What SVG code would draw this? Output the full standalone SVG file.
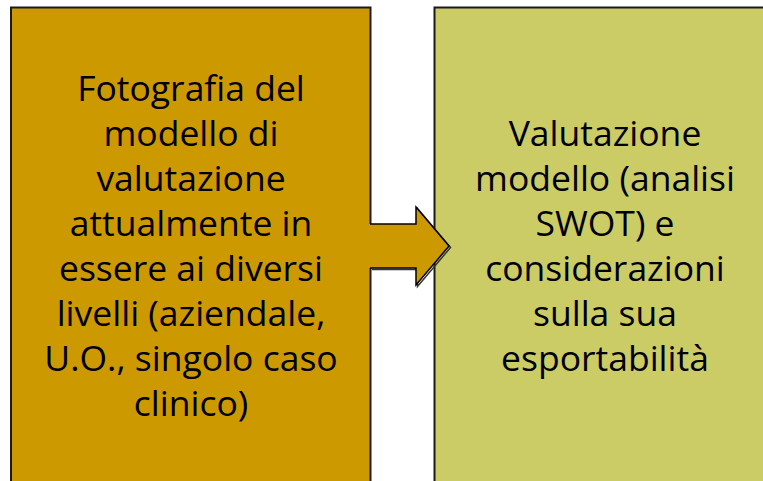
<svg xmlns="http://www.w3.org/2000/svg" width="763" height="481" viewBox="0 0 763 481">
<style>
.box{stroke:#1a1a1a;stroke-width:2}
.t{font-family:"Open Sans","DejaVu Sans",sans-serif;font-size:35.5px;fill:#000;text-anchor:middle}
</style>
<rect width="763" height="481" fill="#ffffff"/>
<g id="node-left">
<rect class="box" x="11" y="7.5" width="359.5" height="490" fill="#CC9900"/>
<text class="t"><tspan x="191" y="101">Fotografia del</tspan><tspan x="191" y="146">modello di</tspan><tspan x="191" y="191">valutazione</tspan><tspan x="191" y="236">attualmente in</tspan><tspan x="191" y="281">essere ai diversi</tspan><tspan x="191" y="326">livelli (aziendale,</tspan><tspan x="191" y="371">U.O., singolo caso</tspan><tspan x="191" y="416">clinico)</tspan></text>
</g>
<g id="node-right">
<rect class="box" x="434.5" y="7.5" width="350" height="490" fill="#CCCC66"/>
<text class="t"><tspan x="605" y="146">Valutazione</tspan><tspan x="605" y="191">modello (analisi</tspan><tspan x="605" y="236">SWOT) e</tspan><tspan x="605" y="281">considerazioni</tspan><tspan x="605" y="326">sulla sua</tspan><tspan x="605" y="371">esportabilità</tspan></text>
</g>
<g id="connectors">
<path d="M372,225.5 H417.5 V208.5 L450.5,247.5 L417.5,286.5 V269.5 H372" fill="none" stroke="#333" stroke-width="1.5"/>
<path d="M369,224 H416 V207 L449,246 L416,285 V268 H369 Z" fill="#CC9900" stroke="none"/>
<path d="M370,224 H416 V207 L449,246 L416,285 V268 H370" fill="none" stroke="#000" stroke-width="1.5" stroke-linejoin="miter"/>
</g>
</svg>
